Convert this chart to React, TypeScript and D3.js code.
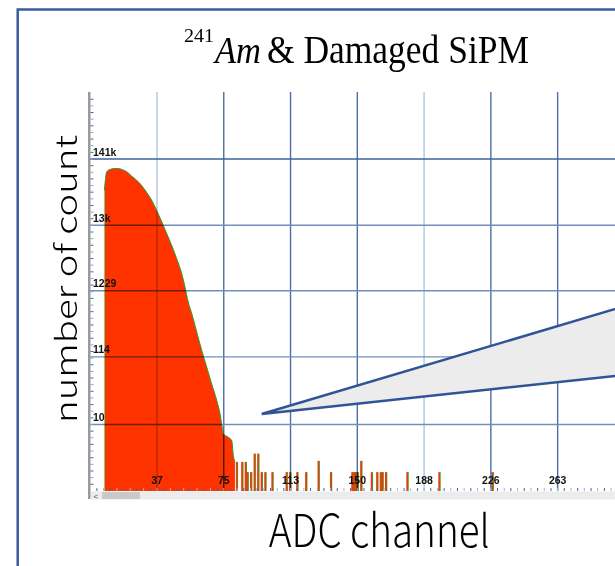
import React, { useEffect, useRef } from "react";
import * as d3 from "d3";

// main peak of the spectrum (channel, counts)
const peakChannels = [8.0, 9.3, 11.1, 14.0, 15.8, 17.7, 20.6, 23.4, 27.1, 30.9, 34.6, 37.4, 40.3, 43.1, 45.9, 48.7, 51.5, 53.4, 55.2, 57.2, 60.0, 62.8, 65.6, 68.4, 71.2, 73.1, 74.0, 74.9, 77.8, 79.7, 80.6, 81.5];
const peakCounts = [46000, 89000, 97000, 100000, 100000, 97000, 89000, 76000, 62000, 46000, 32000, 22300, 14700, 9600, 6300, 3900, 2300, 1400, 820, 540, 278, 144, 79, 43, 24, 14.7, 10.3, 7.2, 6.3, 5.6, 3.3, 2.6];

// sparse single-channel hits in the tail
const tailChannels = [82, 85, 87, 88, 90, 92, 94, 96, 98, 102, 110, 112, 116, 121, 128, 135, 147, 148, 149, 150, 152, 158, 161, 163, 164, 166, 178, 196, 226];
const tailCounts = [2.6, 2.6, 2.6, 1.8, 1.8, 3.5, 3.5, 1.8, 1.8, 1.8, 1.8, 1.8, 1.8, 1.8, 2.7, 1.8, 1.8, 1.8, 1.8, 1.8, 2.7, 1.8, 1.8, 1.8, 1.8, 1.8, 1.8, 1.8, 1.8];

const xTickValues = [37.6, 75.2, 112.8, 150.4, 188, 225.6, 263.2];
const xTickLabels = ["37", "75", "113", "150", "188", "226", "263"];
const yTickValues = [10, 114, 1229, 13000, 141000];
const yTickLabels = ["10", "114", "1229", "13k", "141k"];

const W = 615;
const H = 566;

const App: React.FC = () => {
  const ref = useRef<SVGSVGElement | null>(null);

  useEffect(() => {
    if (!ref.current) return;
    const svg = d3.select(ref.current);
    svg.selectAll("*").remove();

    const top = 92;
    const bottom = 491;
    const x = d3.scaleLinear().domain([0, 300]).range([90.2, 90.2 + 300 * 1.776]);
    const y = d3.scaleLog().domain([10, 141000]).range([424.5, 159]);

    // outer frame
    svg
      .append("rect")
      .attr("x", 17.7)
      .attr("y", 9.5)
      .attr("width", W)
      .attr("height", H)
      .attr("fill", "#fff")
      .attr("stroke", "#3d5c9c")
      .attr("stroke-width", 2.5);

    const red = "#ff3300";
    const green = "#2f9a2f";

    // main peak
    const peak = peakChannels.map((c, i) => [c, peakCounts[i]] as [number, number]);
    const area = d3
      .area<[number, number]>()
      .x((d) => x(d[0]))
      .y0(bottom)
      .y1((d) => y(d[1]))
      .curve(d3.curveMonotoneX);
    svg.append("path").attr("d", area(peak)).attr("fill", red);
    const line = d3
      .line<[number, number]>()
      .x((d) => x(d[0]))
      .y((d) => y(d[1]))
      .curve(d3.curveMonotoneX);
    svg
      .append("path")
      .attr("d", line(peak))
      .attr("fill", "none")
      .attr("stroke", green)
      .attr("stroke-width", 1);
    svg
      .append("line")
      .attr("x1", x(peakChannels[0]))
      .attr("x2", x(peakChannels[0]))
      .attr("y1", bottom)
      .attr("y2", y(peakCounts[0]))
      .attr("stroke", "#7fcf7f")
      .attr("stroke-width", 1);

    // tail spikes: red bars with a thin green edge
    const spikes = svg
      .append("g")
      .selectAll("g")
      .data(tailChannels.map((c, i) => ({ c, v: tailCounts[i] })))
      .join("g");
    spikes
      .append("rect")
      .attr("x", (d) => x(d.c))
      .attr("width", (d) => x(d.c + 1) - x(d.c) + 0.3)
      .attr("y", (d) => y(d.v))
      .attr("height", (d) => bottom - y(d.v))
      .attr("fill", red);
    spikes
      .append("line")
      .attr("x1", (d) => x(d.c + 1))
      .attr("x2", (d) => x(d.c + 1))
      .attr("y1", (d) => y(d.v))
      .attr("y2", bottom)
      .attr("stroke", green)
      .attr("stroke-width", 0.8);

    // grid
    const grid = svg.append("g").style("mix-blend-mode", "multiply");
    const xLight = [true, false, false, false, true, false, false];
    grid
      .selectAll("line.v")
      .data(xTickValues)
      .join("line")
      .attr("x1", (d) => x(d))
      .attr("x2", (d) => x(d))
      .attr("y1", top)
      .attr("y2", bottom)
      .attr("stroke", (d, i) => (xLight[i] ? "#b2c5dd" : "#4d6fa3"))
      .attr("stroke-width", 1.4);
    grid
      .selectAll("line.h")
      .data(yTickValues)
      .join("line")
      .attr("x1", 90)
      .attr("x2", W)
      .attr("y1", (d) => y(d))
      .attr("y2", (d) => y(d))
      .attr("stroke", (d, i) => (i === 4 ? "#3d6099" : "#6f8fbd"))
      .attr("stroke-width", 1.4);

    // left axis bar and minor ticks
    svg
      .append("rect")
      .attr("x", 88)
      .attr("y", top)
      .attr("width", 2.5)
      .attr("height", 499 - top)
      .attr("fill", "#9a9a9a");
    const ratio = Math.pow(141000 / 10, 1 / 40);
    const yMinor = d3
      .range(-12, 52)
      .map((i) => 10 * Math.pow(ratio, i))
      .filter((v) => y(v) > top + 2 && y(v) < bottom - 1);
    svg
      .append("g")
      .selectAll("line")
      .data(yMinor)
      .join("line")
      .attr("x1", 90.5)
      .attr("x2", 93.5)
      .attr("y1", (d) => y(d))
      .attr("y2", (d) => y(d))
      .attr("stroke", (d, i) => (i % 2 ? "#8aa3cc" : "#3f66b0"))
      .attr("stroke-width", 1);

    const xMinor = d3.range(1, 80).map((i) => i * 3.76).filter((v) => x(v) < W);
    svg
      .append("g")
      .selectAll("line")
      .data(xMinor)
      .join("line")
      .attr("x1", (d) => x(d))
      .attr("x2", (d) => x(d))
      .attr("y1", bottom - 3)
      .attr("y2", bottom)
      .attr("stroke", (d, i) => (i % 2 ? "#9fb3d3" : "#3f66b0"))
      .attr("stroke-width", 1);

    // tick labels
    const tickFont = "'Liberation Sans', Arial, sans-serif";
    svg
      .append("g")
      .selectAll("text")
      .data(yTickValues)
      .join("text")
      .attr("x", 93)
      .attr("y", (d) => y(d) - 3.5)
      .attr("font-family", tickFont)
      .attr("font-weight", "bold")
      .attr("font-size", 10.5)
      .attr("fill", "#111")
      .text((d, i) => yTickLabels[i]);
    svg
      .append("g")
      .selectAll("text")
      .data(xTickValues)
      .join("text")
      .attr("x", (d) => x(d))
      .attr("y", 483.5)
      .attr("text-anchor", "middle")
      .attr("font-family", tickFont)
      .attr("font-weight", "bold")
      .attr("font-size", 10.5)
      .attr("fill", "#111")
      .text((d, i) => xTickLabels[i]);

    // scrollbar
    svg.append("rect").attr("x", 91).attr("y", 491.5).attr("width", W - 91).attr("height", 8).attr("fill", "#ececec");
    svg.append("rect").attr("x", 102).attr("y", 492).attr("width", 38).attr("height", 7).attr("fill", "#c9c9c9");
    svg
      .append("text")
      .attr("x", 93.5)
      .attr("y", 498.5)
      .attr("font-family", tickFont)
      .attr("font-size", 8)
      .attr("fill", "#444")
      .text("<");

    // callout wedge
    const tip: [number, number] = [261.7, 414];
    const s1 = -0.297;
    const s2 = -0.1076;
    const xe = W + 20;
    svg
      .append("path")
      .attr(
        "d",
        `M${tip[0]},${tip[1]}L${xe},${tip[1] + s1 * (xe - tip[0])}L${xe},${tip[1] + s2 * (xe - tip[0])}Z`
      )
      .attr("fill", "#ececec")
      .attr("stroke", "#2f5597")
      .attr("stroke-width", 2.5)
      .attr("stroke-linejoin", "miter");

    // title
    const serif = "'Liberation Serif', 'Times New Roman', serif";
    svg
      .append("text")
      .attr("x", 184)
      .attr("y", 42)
      .attr("font-family", serif)
      .attr("font-size", 18)
      .attr("textLength", 30)
      .attr("lengthAdjust", "spacingAndGlyphs")
      .text("241");
    svg
      .append("text")
      .attr("x", 215)
      .attr("y", 63)
      .attr("font-family", serif)
      .attr("font-style", "italic")
      .attr("font-size", 37)
      .attr("textLength", 46)
      .attr("lengthAdjust", "spacingAndGlyphs")
      .text("Am");
    svg
      .append("text")
      .attr("x", 267)
      .attr("y", 63)
      .attr("font-family", serif)
      .attr("font-size", 39)
      .attr("textLength", 262)
      .attr("lengthAdjust", "spacingAndGlyphs")
      .text("& Damaged SiPM");

    // axis titles
    const sans = "'Noto Sans CJK JP', 'Noto Sans', sans-serif";
    svg
      .append("text")
      .attr("x", 379.3)
      .attr("y", 547)
      .attr("text-anchor", "middle")
      .attr("font-family", sans)
      .attr("font-weight", 300)
      .attr("font-size", 45)
      .attr("textLength", 221)
      .attr("lengthAdjust", "spacingAndGlyphs")
      .text("ADC channel");
    svg
      .append("text")
      .attr("transform", "translate(77,279) rotate(-90)")
      .attr("text-anchor", "middle")
      .attr("font-family", sans)
      .attr("font-weight", 300)
      .attr("font-size", 29)
      .attr("textLength", 288)
      .attr("lengthAdjust", "spacingAndGlyphs")
      .text("number of count");
  }, []);

  return (
    <svg
      ref={ref}
      width={W}
      height={H}
      style={{ position: "absolute", left: 0, top: 0, display: "block", background: "#fff" }}
    />
  );
};

export default App;
